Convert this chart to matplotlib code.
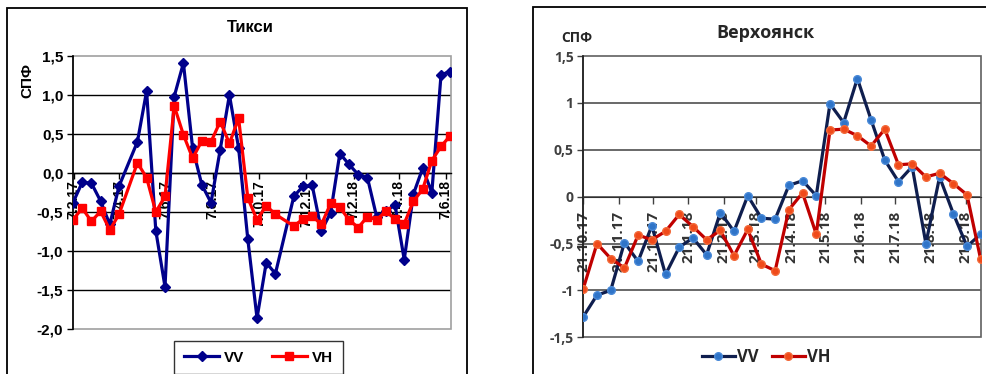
import matplotlib
matplotlib.use("Agg")
import matplotlib.pyplot as plt
import pandas as pd
from matplotlib.patches import Rectangle

# ---------------- data: Тикси ----------------
tiksi_dates = [
    "2017-02-06", "2017-02-18", "2017-03-02", "2017-03-14", "2017-03-26", "2017-04-07",
    "2017-05-01", "2017-05-13", "2017-05-25", "2017-06-06", "2017-06-18", "2017-06-30",
    "2017-07-12", "2017-07-24", "2017-08-05", "2017-08-17", "2017-08-29", "2017-09-10",
    "2017-09-22", "2017-10-04", "2017-10-16", "2017-10-28", "2017-11-21", "2017-12-03",
    "2017-12-15", "2017-12-27", "2018-01-08", "2018-01-20", "2018-02-01", "2018-02-13",
    "2018-02-25", "2018-03-09", "2018-03-21", "2018-04-02", "2018-04-14", "2018-04-26",
    "2018-05-08", "2018-05-20", "2018-06-01", "2018-06-13",
]
tiksi_vv = [
    -0.38, -0.12, -0.13, -0.36, -0.66, -0.17,
    0.40, 1.05, -0.74, -1.46, 0.98, 1.41,
    0.32, -0.15, -0.38, 0.30, 1.00, 0.32,
    -0.85, -1.86, -1.15, -1.29, -0.30, -0.17,
    -0.16, -0.74, -0.51, 0.25, 0.11, -0.02,
    -0.06, -0.56, -0.49, -0.41, -1.11, -0.27,
    0.06, -0.25, 1.26, 1.30,
]
tiksi_vh = [
    -0.60, -0.45, -0.62, -0.49, -0.73, -0.53,
    0.13, -0.06, -0.50, -0.30, 0.86, 0.49,
    0.19, 0.41, 0.40, 0.66, 0.38, 0.70,
    -0.32, -0.60, -0.42, -0.53, -0.68, -0.59,
    -0.55, -0.66, -0.39, -0.44, -0.60, -0.70,
    -0.56, -0.60, -0.49, -0.59, -0.65, -0.36,
    -0.21, 0.16, 0.34, 0.48,
]
tiksi_tick_dates = ["2017-02-07", "2017-04-07", "2017-06-07", "2017-08-07", "2017-10-07",
                    "2017-12-07", "2018-02-07", "2018-04-07", "2018-06-07"]
tiksi_tick_labels = ["7.2.17", "7.4.17", "7.6.17", "7.8.17", "7.10.17",
                     "7.12.17", "7.2.18", "7.4.18", "7.6.18"]
tiksi_yticks = [-2.0, -1.5, -1.0, -0.5, 0.0, 0.5, 1.0, 1.5]
tiksi_ytick_labels = ["-2,0", "-1,5", "-1,0", "-0,5", "0,0", "0,5", "1,0", "1,5"]

# ---------------- data: Верхоянск ----------------
verkh_dates = [
    "2017-10-21", "2017-11-02", "2017-11-14", "2017-11-26", "2017-12-08", "2017-12-20",
    "2018-01-01", "2018-01-13", "2018-01-25", "2018-02-06", "2018-02-18", "2018-03-02",
    "2018-03-14", "2018-03-26", "2018-04-07", "2018-04-19", "2018-05-01", "2018-05-13",
    "2018-05-25", "2018-06-06", "2018-06-18", "2018-06-30", "2018-07-12", "2018-07-24",
    "2018-08-05", "2018-08-17", "2018-08-29", "2018-09-10", "2018-09-22", "2018-10-04",
]
verkh_vv = [
    -1.28, -1.05, -1.00, -0.49, -0.69, -0.31,
    -0.83, -0.54, -0.44, -0.62, -0.17, -0.37,
    0.01, -0.23, -0.24, 0.12, 0.17, 0.01,
    0.99, 0.79, 1.26, 0.82, 0.39, 0.16,
    0.32, -0.50, 0.21, -0.18, -0.53, -0.40,
]
verkh_vh = [
    -0.98, -0.50, -0.66, -0.76, -0.41, -0.46,
    -0.37, -0.19, -0.32, -0.46, -0.36, -0.63,
    -0.35, -0.72, -0.79, -0.14, 0.04, -0.40,
    0.71, 0.72, 0.65, 0.54, 0.72, 0.34,
    0.35, 0.21, 0.25, 0.14, 0.02, -0.67,
]
verkh_tick_dates = ["2017-10-21", "2017-11-21", "2017-12-21", "2018-01-21", "2018-02-21",
                    "2018-03-21", "2018-04-21", "2018-05-21", "2018-06-21", "2018-07-21",
                    "2018-08-21", "2018-09-21"]
verkh_tick_labels = ["21.10.17", "21.11.17", "21.12.17", "21.1.18", "21.2.18", "21.3.18",
                     "21.4.18", "21.5.18", "21.6.18", "21.7.18", "21.8.18", "21.9.18"]
verkh_yticks = [-1.5, -1.0, -0.5, 0.0, 0.5, 1.0, 1.5]
verkh_ytick_labels = ["-1,5", "-1", "-0,5", "0", "0,5", "1", "1,5"]

# ---------------- figure ----------------
W, H = 987, 374
fig = plt.figure(figsize=(W / 100, H / 100), dpi=100)


def fx(px):
    return px / W


def fy(py):
    return 1 - py / H


LFONT = ["Liberation Sans", "DejaVu Sans"]
RFONT = ["Open Sans", "DejaVu Sans"]

# outer frames
fig.patches.append(Rectangle((fx(7), fy(380)), fx(467) - fx(7), fy(8) - fy(380),
                             transform=fig.transFigure, fill=False, edgecolor="black",
                             lw=1.3))
fig.patches.append(Rectangle((fx(533), fy(380)), fx(995) - fx(533), fy(7) - fy(380),
                             transform=fig.transFigure, fill=False, edgecolor="black",
                             lw=1.3))

# ================= left chart =================
ax1 = fig.add_axes([fx(73), fy(329), fx(451) - fx(73), fy(56) - fy(329)])
td = pd.to_datetime(tiksi_dates)
l_vv, = ax1.plot(td, tiksi_vv, color="#00008B", lw=2.3, marker="D", ms=5, zorder=3,
                 label="VV")
l_vh, = ax1.plot(td, tiksi_vh, color="#FF0000", lw=2.3, marker="s", ms=5.5, zorder=4,
                 label="VH")
ax1.set_xlim(pd.Timestamp("2017-02-06"), pd.Timestamp("2018-06-14"))
ax1.set_ylim(-2.0, 1.5)
for v in tiksi_yticks[1:-1]:
    ax1.axhline(v, color="black", lw=1, zorder=1)
ax1.add_patch(Rectangle((0, 0), 1, 1, transform=ax1.transAxes, fill=False,
                        edgecolor="#a0a0a0", lw=1.2, zorder=1, clip_on=False))
for s in ["top", "right"]:
    ax1.spines[s].set_visible(False)
ax1.spines["left"].set_color("black")
ax1.spines["left"].set_linewidth(1.2)
ax1.spines["bottom"].set_position(("data", 0))
ax1.spines["bottom"].set_color("black")
ax1.spines["bottom"].set_linewidth(1.0)
ax1.set_yticks(tiksi_yticks, labels=tiksi_ytick_labels, fontsize=11, fontweight="bold",
               family=LFONT)
ax1.set_xticks(pd.to_datetime(tiksi_tick_dates), labels=tiksi_tick_labels, rotation=90,
               fontsize=10, fontweight="bold", family=LFONT, va="top", ha="center")
ax1.tick_params(axis="y", direction="out", length=4, width=1, pad=3)
ax1.tick_params(axis="x", direction="out", length=4, width=1, pad=1)
ax1.patch.set_alpha(0)

fig.text(fx(250), fy(27), "Тикси", ha="center", va="center", fontsize=12,
         fontweight="bold", family=LFONT)
fig.text(fx(27), fy(80), "СПФ", ha="center", va="center", rotation=90, fontsize=11,
         fontweight="bold", family=LFONT)

leg1 = fig.legend(handles=[l_vv, l_vh], loc="center",
                  bbox_to_anchor=(fx(258.5), fy(357.5)), ncol=2, frameon=True,
                  fancybox=False, edgecolor="black", handlelength=2.3,
                  columnspacing=1.8, handletextpad=0.3, borderpad=0.35,
                  borderaxespad=0.0,
                  prop={"family": LFONT, "weight": "bold", "size": 11})
leg1.get_frame().set_linewidth(1.0)
leg1.get_frame().set_boxstyle("square", pad=0.3)

# ================= right chart =================
ax2 = fig.add_axes([fx(583.3), fy(337.3), fx(980.7) - fx(583.3), fy(56) - fy(337.3)])
vd = pd.to_datetime(verkh_dates)
r_vv, = ax2.plot(vd, verkh_vv, color="#0F1E4E", lw=2.3, marker="o", ms=5.5,
                 markerfacecolor="#2F74C8", markeredgecolor="#4A8AD8", zorder=3,
                 label="VV")
r_vh, = ax2.plot(vd, verkh_vh, color="#C00000", lw=2.3, marker="o", ms=5.5,
                 markerfacecolor="#F04A1A", markeredgecolor="#F26A3A", zorder=4,
                 label="VH")
ax2.set_xlim(pd.Timestamp("2017-10-21"), pd.Timestamp("2018-10-04"))
ax2.set_ylim(-1.5, 1.5)
for v in verkh_yticks[1:-1]:
    ax2.axhline(v, color="#404040", lw=1.1, zorder=1)
ax2.add_patch(Rectangle((0, 0), 1, 1, transform=ax2.transAxes, fill=False,
                        edgecolor="#606060", lw=1.2, zorder=1, clip_on=False))
for s in ["top", "right"]:
    ax2.spines[s].set_visible(False)
ax2.spines["left"].set_color("#202020")
ax2.spines["left"].set_linewidth(1.2)
ax2.spines["bottom"].set_position(("data", 0))
ax2.spines["bottom"].set_color("#303030")
ax2.set_yticks(verkh_yticks, labels=verkh_ytick_labels, fontsize=10, fontweight="bold",
               family=RFONT, color="#404040")
ax2.set_xticks(pd.to_datetime(verkh_tick_dates), labels=verkh_tick_labels, rotation=90,
               fontsize=11, fontweight="bold", family=RFONT, color="#333333",
               va="top", ha="center")
ax2.tick_params(axis="y", direction="out", length=4, width=1, pad=3, color="#404040")
ax2.tick_params(axis="x", direction="out", length=5, width=1, pad=5, color="#404040")
ax2.patch.set_alpha(0)

fig.text(fx(765), fy(33), "Верхоянск", ha="center", va="center", fontsize=13,
         fontweight="bold", family=RFONT, color="#262626")
fig.text(fx(577), fy(38), "СПФ", ha="center", va="center", fontsize=10,
         fontweight="bold", family=RFONT, color="#262626")

leg2 = fig.legend(handles=[r_vv, r_vh], loc="center",
                  bbox_to_anchor=(fx(766), fy(357)), ncol=2, frameon=False,
                  handlelength=2.0, columnspacing=0.8, handletextpad=0.1,
                  prop={"family": RFONT, "weight": "bold", "size": 12})
for t in leg2.get_texts():
    t.set_color("#262626")

fig.savefig("out.png", dpi=100)
